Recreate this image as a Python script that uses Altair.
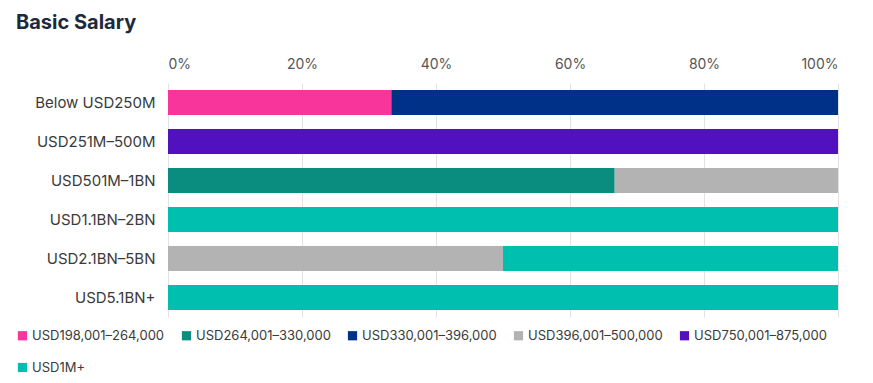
import altair as alt
import pandas as pd

categories = ["Below USD250M", "USD251M–500M", "USD501M–1BN", "USD1.1BN–2BN", "USD2.1BN–5BN", "USD5.1BN+"]
series = ["USD198,001–264,000", "USD264,001–330,000", "USD330,001–396,000",
          "USD396,001–500,000", "USD750,001–875,000", "USD1M+"]
colors = ["#F7359B", "#0A8C7E", "#003189", "#B3B3B3", "#5211BE", "#00BFAE"]

# share per category, one list per series (in category order)
s_198 = [33.33, 0, 0, 0, 0, 0]
s_264 = [0, 0, 66.67, 0, 0, 0]
s_330 = [66.67, 0, 0, 0, 0, 0]
s_396 = [0, 0, 33.33, 0, 50, 0]
s_750 = [0, 100, 0, 0, 0, 0]
s_1m = [0, 0, 0, 100, 50, 100]
values = [s_198, s_264, s_330, s_396, s_750, s_1m]

rows = []
for si, (name, vals) in enumerate(zip(series, values)):
    for ci, (cat, v) in enumerate(zip(categories, vals)):
        if v > 0:
            rows.append({"category": cat, "series": name, "order": si, "value": v / 100})
df = pd.DataFrame(rows)

FONT = "Inter"

chart = alt.Chart(df).mark_bar().encode(
    y=alt.Y("category:N", sort=categories, title=None,
            scale=alt.Scale(paddingInner=0.36, paddingOuter=0.18),
            axis=alt.Axis(domain=False, ticks=False, labelFontSize=15, labelColor="#3a3a3a",
                          labelPadding=13, labelFont=FONT)),
    x=alt.X("value:Q", stack="zero", title=None,
            scale=alt.Scale(domain=[0, 1], nice=False),
            axis=alt.Axis(orient="top", format=".0%", values=[0, 0.2, 0.4, 0.6, 0.8, 1.0],
                          domain=False, ticks=False, labelFontSize=14, labelColor="#555555",
                          labelPadding=12, labelFont=FONT, grid=True, gridColor="#e2e2e2",
                          gridWidth=1)),
    color=alt.Color("series:N", scale=alt.Scale(domain=series, range=colors), title=None,
                    legend=alt.Legend(orient="none", legendX=-152, legendY=246, direction="horizontal",
                                      columns=5, symbolType="square", symbolSize=85,
                                      symbolStrokeWidth=0, labelFontSize=13, labelColor="#3a3a3a",
                                      labelFont=FONT, columnPadding=15, rowPadding=18,
                                      labelOffset=3)),
    order=alt.Order("order:Q"),
).properties(
    width=670, height=234,
    padding={"left": 8, "top": 5, "right": 5, "bottom": 5},
    title=alt.TitleParams("Basic Salary", anchor="start", fontSize=20, font=FONT,
                          fontWeight="bold", color="#1b2a3b", offset=24),
).configure_view(stroke=None)

chart.save("out.html", embed_options={"renderer": "svg", "actions": False})
